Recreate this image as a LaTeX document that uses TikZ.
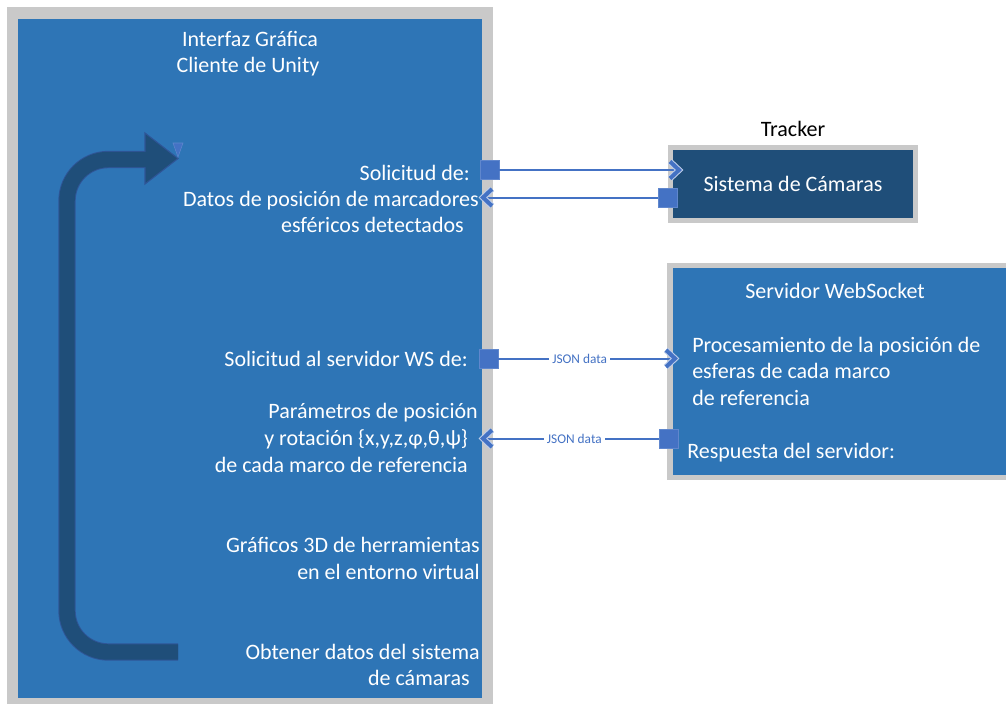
\documentclass[tikz,border=0pt]{standalone}
\usepackage{fontspec}
\setmainfont{Carlito}
\usepackage{tikz}
\usetikzlibrary{arrows.meta,positioning}

\definecolor{panelblue}{HTML}{2E75B6}
\definecolor{camblue}{HTML}{1F4E79}
\definecolor{loopedge}{HTML}{2F5597}
\definecolor{frame}{HTML}{C9C9C9}
\definecolor{port}{HTML}{4472C4}

\tikzset{
  txt/.style={text=white, inner sep=0, font=\fontsize{16.5}{19.5}\selectfont},
  port/.style={fill=port, draw=port!85!white, line width=0.4pt, minimum size=14.5pt, inner sep=0},
  link/.style={draw=port, line width=1.5pt, shorten >=2pt},
  chevhalo/.style={draw=port!35!white, line width=4.6pt, line join=miter, line cap=butt},
  chev/.style={draw=port, line width=3pt, line join=miter, line cap=butt},
  jsonlbl/.style={fill=white, text=port, inner sep=2.5pt, font=\fontsize{10}{12}\selectfont},
  trackbox/.style={draw=frame, line width=3.75pt, fill=camblue, text=white,
    minimum width=183.75pt, minimum height=54.75pt, inner sep=0,
    font=\fontsize{16.5}{19.5}\selectfont}
}
\newcommand{\chevright}[1]{%
  \draw[chevhalo] ([shift={(-9,-8.5)}]#1) -- (#1) -- ([shift={(-9,8.5)}]#1);
  \draw[chev] ([shift={(-9,-8.5)}]#1) -- (#1) -- ([shift={(-9,8.5)}]#1);}
\newcommand{\chevleft}[1]{%
  \draw[chevhalo] ([shift={(9,-8.5)}]#1) -- (#1) -- ([shift={(9,8.5)}]#1);
  \draw[chev] ([shift={(9,-8.5)}]#1) -- (#1) -- ([shift={(9,8.5)}]#1);}

\begin{document}
\begin{tikzpicture}[x=0.75pt, y=-0.75pt]
  \useasboundingbox (0,0) rectangle (1006,704);
  % Unity client panel
  \fill[frame] (7,7) rectangle (493,704);
  \fill[panelblue] (18,19) rectangle (482,698);
  % WebSocket server panel
  \fill[frame] (667,263) rectangle (1006,480);
  \fill[panelblue] (673,268) rectangle (1006,475);
  % Tracker box
  \node[trackbox] (cam) at (793,184) {Sistema de Cámaras};
  \node[anchor=base, inner sep=0, font=\fontsize{16.5}{19.5}\selectfont] (tracker) at (793,136) {Tracker};

  % Loop arrow
  \draw[loopedge, line width=13pt, rounded corners=31pt] (178,652) -| (67,159.5) -- (147,159.5);
  \filldraw[fill=camblue, draw=loopedge, line width=0.8pt] (145,133) -- (178,158.5) -- (145,184) -- cycle;
  \draw[camblue, line width=11.6pt, rounded corners=31pt] (178,652) -| (67,159.5) -- (147,159.5);
  \fill[port] (173,143) -- (183,143) -- (178,157) -- cycle;

  % Client texts
  \node[txt, anchor=base] (title1) at (250,46) {Interfaz Gráfica};
  \node[txt, anchor=base] (title2) at (248,72) {Cliente de Unity};
  \node[txt, anchor=base east] (sol1) at (470,180) {Solicitud de:};
  \node[txt, anchor=base east] (dat1) at (479,206) {Datos de posición de marcadores};
  \node[txt, anchor=base east] (dat2) at (464,232) {esféricos detectados};
  \node[txt, anchor=base east] (sol2) at (468,366) {Solicitud al servidor WS de:};
  \node[txt, anchor=base east] (par1) at (478,418) {Parámetros de posición};
  \node[txt, anchor=base east] (par2) at (468,445) {y rotación \{x,y,z,φ,θ,ψ\}};
  \node[txt, anchor=base east] (par3) at (468,472) {de cada marco de referencia};
  \node[txt, anchor=base east] (gra1) at (480,552) {Gráficos 3D de herramientas};
  \node[txt, anchor=base east] (gra2) at (480,579) {en el entorno virtual};
  \node[txt, anchor=base east] (obt1) at (480,659) {Obtener datos del sistema};
  \node[txt, anchor=base east] (obt2) at (470,685) {de cámaras};

  % Server texts
  \node[txt, anchor=base] (srv) at (835,298) {Servidor WebSocket};
  \node[txt, anchor=base west] (pro1) at (692,352) {Procesamiento de la posición de};
  \node[txt, anchor=base west] (pro2) at (692,378) {esferas de cada marco};
  \node[txt, anchor=base west] (pro3) at (692,405) {de referencia};
  \node[txt, anchor=base west] (resp) at (687,458) {Respuesta del servidor:};

  % Ports and connectors
  \node[port] (p1) at (489.5,170) {};
  \node[port] (p2) at (668,197.5) {};
  \node[port] (p3) at (488.5,358.5) {};
  \node[port] (p4) at (668.5,438.5) {};
  \coordinate (t1) at (679,170);
  \coordinate (t2) at (483,197.5);
  \coordinate (t3) at (675,358.5);
  \coordinate (t4) at (483,438.5);
  \draw[link] (p1) -- (t1);
  \draw[link] (p2) -- (t2);
  \draw[link] (p3) -- node[jsonlbl, pos=0.46] {JSON data} (t3);
  \draw[link] (p4) -- node[jsonlbl, pos=0.48] {JSON data} (t4);
  \chevright{t1}
  \chevleft{t2}
  \chevright{t3}
  \chevleft{t4}
\end{tikzpicture}
\end{document}
